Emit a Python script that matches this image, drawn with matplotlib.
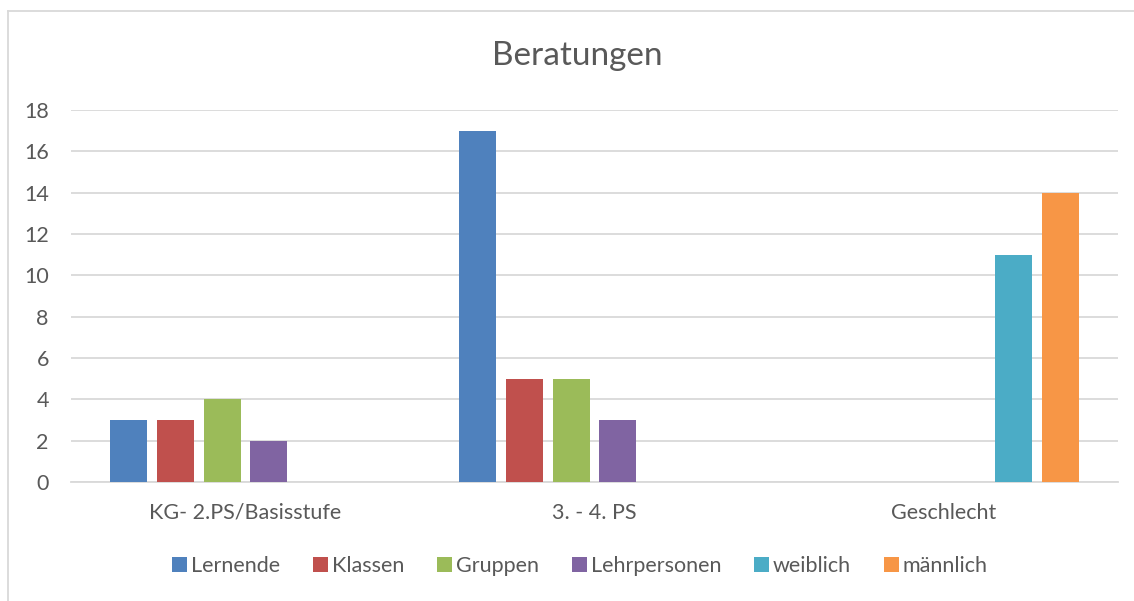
import numpy as np
import matplotlib
matplotlib.use('Agg')
import matplotlib.pyplot as plt
from matplotlib.lines import Line2D

# === Data ===
categories = ['KG- 2.PS/Basisstufe', '3. - 4. PS', 'Geschlecht']
series_names = ['Lernende', 'Klassen', 'Gruppen', 'Lehrpersonen', 'weiblich', 'männlich']
lernende = [3, 17, np.nan]
klassen = [3, 5, np.nan]
gruppen = [4, 5, np.nan]
lehrpersonen = [2, 3, np.nan]
weiblich = [np.nan, np.nan, 11]
maennlich = [np.nan, np.nan, 14]
yticks = [0, 2, 4, 6, 8, 10, 12, 14, 16, 18]

colors = ['#4f81bd', '#c0504d', '#9bbb59', '#8064a2', '#4bacc6', '#f79646']
text_col = '#595959'

plt.rcParams['font.family'] = ['Lato', 'DejaVu Sans']

fig = plt.figure(figsize=(11.34, 6.01), dpi=100)
ax = fig.add_axes([71 / 1134, 1 - 482 / 601, (1118 - 71) / 1134, (482 - 110) / 601])

all_series = [lernende, klassen, gruppen, lehrpersonen, weiblich, maennlich]
x = np.arange(len(categories))
slot = 0.1337
bar_w = 0.106
for i, (name, vals) in enumerate(zip(series_names, all_series)):
    offs = (i - 2.5) * slot
    ax.bar(x + offs, vals, width=bar_w, color=colors[i], label=name, zorder=3)

ax.set_xlim(-0.5, len(categories) - 0.5)
ax.set_ylim(0, 18)
ax.set_yticks(yticks)
ax.set_xticks(x)
ax.set_xticklabels(categories)
ax.yaxis.grid(True, color='#d9d9d9', linewidth=1.3, zorder=0)
ax.tick_params(axis='both', length=0, labelsize=15.5, colors=text_col)
ax.tick_params(axis='x', pad=15)
ax.tick_params(axis='y', pad=16)
for s in ['top', 'right', 'left']:
    ax.spines[s].set_visible(False)
ax.spines['bottom'].set_color('#d9d9d9')
ax.spines['bottom'].set_linewidth(1.3)

fig.text(577 / 1134, 1 - 56 / 601, 'Beratungen', ha='center', va='center',
         fontsize=24, color=text_col)

leg = fig.legend(loc='center', bbox_to_anchor=(580 / 1134, 1 - 566 / 601), ncol=6,
                 frameon=False, fontsize=15.5, handlelength=0.7, handleheight=0.7,
                 handletextpad=0.2, columnspacing=1.5)
for t in leg.get_texts():
    t.set_color(text_col)

# chart frame
fig.add_artist(Line2D([7.5 / 1134, 7.5 / 1134], [0, 1 - 11 / 601], color='#d9d9d9', linewidth=1.3))
fig.add_artist(Line2D([7.5 / 1134, 1], [1 - 11 / 601, 1 - 11 / 601], color='#d9d9d9', linewidth=1.3))

fig.savefig('out.png', dpi=100)
